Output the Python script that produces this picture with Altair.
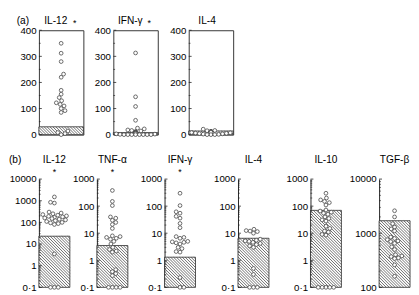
import math
import altair as alt
import pandas as pd

FONT = "Liberation Sans"

# ---------------- data ----------------
# (a) linear panels, 0-400
a_names = ["IL-12", "IFN-γ", "IL-4"]
a_star = [True, True, False]
a_bar = [30, 8, 14]
a_il12 = [350, 312, 280, 232, 220, 170, 155, 142, 130, 122, 116, 110, 100, 92, 85, 14, 8, 4, 0]
a_ifng = [313, 145, 108, 55, 25, 22, 18, 16, 14, 12, 10, 9, 8, 7, 6, 5, 4, 3, 2, 1,
          0, 0, 0, 0, 0, 0, 0, 0]
a_il4 = [21, 16, 15, 13, 12, 11, 10, 9, 8, 7, 6, 5, 4, 3, 2, 1, 0, 0, 0]
a_vals = [a_il12, a_ifng, a_il4]
a_domain = [0, 400]
a_majors = [0, 100, 200, 300, 400]
a_minors = [50, 150, 250, 350]

# (b) log panels
b_names = ["IL-12", "TNF-α", "IFN-γ", "IL-4", "IL-10", "TGF-β"]
b_star = [True, True, True, False, False, False]
b_bar = [23, 3.5, 1.3, 6.5, 70, 1700]
b_domains = [[0.1, 10000], [0.1, 1000], [0.1, 1000], [0.1, 1000], [0.1, 1000], [100, 10000]]
b_il12 = [1500, 850, 780, 300, 270, 250, 230, 215, 200, 190, 180, 170, 160, 150, 140,
          130, 120, 110, 100, 95, 88, 80, 3.5, 0.1, 0.1, 0.1]
b_tnf = [380, 150, 105, 40, 36, 30, 25, 21, 15, 8, 7.5, 7, 6.5, 6, 5, 4, 3, 2.5, 2.2, 2,
         0.45, 0.38, 0.32, 0.27, 0.1, 0.1, 0.1, 0.1]
b_ifng = [300, 105, 62, 55, 42, 36, 23, 16, 7.5, 7, 6.5, 5, 4.8, 4.6, 4.4, 4, 3, 2.7,
          2.1, 2, 0.23, 0.1, 0.1]
b_il4 = [14, 12.5, 12, 11.5, 10, 6, 5.5, 5.2, 5, 4.6, 4.2, 3.8, 3.4, 3, 0.5, 0.3, 0.1, 0.1, 0.1]
b_il10 = [300, 200, 170, 150, 135, 110, 72, 66, 60, 55, 50, 40, 35, 31, 28, 18, 15, 12, 11,
          9, 8.5, 0.1, 0.1, 0.1, 0.1, 0.1]
b_tgfb = [2600, 2000, 1500, 1300, 1200, 1100, 850, 800, 760, 720, 700, 650, 560, 500, 400,
          380, 370, 350, 340, 260, 160]
b_vals = [b_il12, b_tnf, b_ifng, b_il4, b_il10, b_tgfb]

# ---------------- layout / style ----------------
A_W, A_H, A_EXT, A_SP = 46, 108, 23, 6
B_W, B_H, B_SP = 32, 112, 0
B_EXT = [31, 26, 36, 42, 41, 37]
DOT_D = 4.0
HATCH_PERIOD = 3.0


def px_fn(d0, d1, h, log):
    if log:
        l0, l1 = math.log10(d0), math.log10(d1)
        return lambda v: h * (1 - (math.log10(v) - l0) / (l1 - l0))
    return lambda v: h * (1 - (v - d0) / (d1 - d0))


def inv_fn(d0, d1, h, log):
    if log:
        l0, l1 = math.log10(d0), math.log10(d1)
        return lambda p: 10 ** (l0 + (1 - p / h) * (l1 - l0))
    return lambda p: d0 + (1 - p / h) * (d1 - d0)


def swarm(vals, to_px, w, d=DOT_D):
    order = sorted(range(len(vals)), key=lambda i: vals[i])
    placed, xs = [], [0.0] * len(vals)
    lim = w / 2 - 2.3
    for n, i in enumerate(order):
        y = to_px(vals[i])
        best = None
        for k in range(0, 200):
            sgns = [1] if k == 0 else ([1, -1] if n % 2 else [-1, 1])
            for s in sgns:
                x = s * k * 0.5
                if abs(x) > lim:
                    continue
                if all((x - px) ** 2 + (y - py) ** 2 >= d * d for px, py in placed):
                    best = x
                    break
            if best is not None:
                break
        if best is None:
            best = 0.0
        placed.append((best, y))
        xs[i] = best
    return xs


def hatch_segments(w, top, bot, inv_y, period=HATCH_PERIOD):
    """45-degree '\\' lines clipped to the bar rectangle, returned in data units."""
    rows = []
    c = -bot + period / 2
    while c < w - top:
        lo = max(0.0, top + c)
        hi = min(float(w), bot + c)
        if hi - lo > 0.2:
            rows.append({"hx": lo / (w / 2) - 1, "hx2": hi / (w / 2) - 1,
                         "hy": inv_y(lo - c), "hy2": inv_y(hi - c)})
        c += period
    return pd.DataFrame(rows)


def text_layer(s, x, y, size, align="center"):
    return (alt.Chart(pd.DataFrame({"s": [s]}))
            .mark_text(font=FONT, fontSize=size, align=align, baseline="alphabetic", color="black")
            .encode(x=alt.value(x), y=alt.value(y), text="s:N"))


def panel(name, vals, bar, d0, d1, log, w, h, ext, star, star_xy, framed,
          majors, minors, title_xy, row_label=None):
    to_px = px_fn(d0, d1, h, log)
    inv_y = inv_fn(d0, d1, h, log)
    xs = swarm(vals, to_px, w)
    pts = pd.DataFrame({"x": [x / (w / 2) for x in xs], "v": vals})
    if log:
        yscale = alt.Scale(type="log", domain=[d0, d1], nice=False)
    else:
        yscale = alt.Scale(domain=[d0, d1], nice=False, zero=False)
    xscale = alt.Scale(domain=[-1, 1], nice=False, zero=False)
    axis = alt.Axis(values=majors,
                    labelExpr="datum.value > 0 && datum.value < 1 ? '0·1' : format(datum.value, 'd')",
                    ticks=False, domain=not framed, domainColor="#222222", domainWidth=1,
                    labelFont=FONT, labelFontSize=10, labelColor="black", labelPadding=3,
                    grid=False, title=None, minExtent=ext, maxExtent=ext)
    bar_df = pd.DataFrame({"x0": [-1.0], "x1": [1.0], "lo": [d0], "hi": [bar]})
    hs = hatch_segments(w, to_px(bar), to_px(d0), inv_y)
    layers = [
        alt.Chart(bar_df).mark_rect(fill="white", stroke="#222222", strokeWidth=0.8)
        .encode(x=alt.X("x0:Q", scale=xscale, axis=None), x2="x1",
                y=alt.Y("lo:Q", scale=yscale, axis=axis), y2="hi"),
        alt.Chart(hs).mark_rule(color="#3a3a3a", strokeWidth=0.75)
        .encode(x=alt.X("hx:Q", scale=xscale, axis=None), x2="hx2",
                y=alt.Y("hy:Q", scale=yscale, axis=axis), y2="hy2"),
        alt.Chart(pd.DataFrame({"t": majors})).mark_rule(color="#222222", strokeWidth=0.8)
        .encode(y=alt.Y("t:Q", scale=yscale, axis=axis), x=alt.value(0), x2=alt.value(3)),
        alt.Chart(pd.DataFrame({"t": minors})).mark_rule(color="#222222", strokeWidth=0.7)
        .encode(y=alt.Y("t:Q", scale=yscale, axis=axis), x=alt.value(0), x2=alt.value(1.8)),
        alt.Chart(pts).mark_point(filled=True, fill="white", stroke="#444444", strokeWidth=0.8,
                                  size=15, opacity=1, shape="circle")
        .encode(x=alt.X("x:Q", scale=xscale, axis=None), y=alt.Y("v:Q", scale=yscale, axis=axis)),
        text_layer(name, title_xy[0], title_xy[1], 10.5),
    ]
    if star:
        layers.append(text_layer("*", star_xy[0], star_xy[1], 9))
    if row_label:
        layers.append(text_layer(row_label, -ext, title_xy[1], 10.5, align="left"))
    view = alt.ViewBackground(stroke="#333333" if framed else "transparent", strokeWidth=1)
    return alt.layer(*layers).properties(width=w, height=h, view=view)


def log_ticks(d0, d1):
    k0, k1 = round(math.log10(d0)), round(math.log10(d1))
    majors = [10.0 ** k for k in range(k0, k1 + 1)]
    minors = [m * 10.0 ** k for k in range(k0, k1) for m in range(2, 10)]
    return majors, minors


a_title_dx = [-5.5, -5.5, -4]
row_a = []
for i, name in enumerate(a_names):
    row_a.append(panel(name, a_vals[i], a_bar[i], a_domain[0], a_domain[1], False, A_W, A_H, A_EXT,
                       a_star[i], (37, -4.5), True, a_majors, a_minors,
                       (A_W / 2 + a_title_dx[i], -6.5), "(a)" if i == 0 else None))

row_b = []
for i, name in enumerate(b_names):
    d0, d1 = b_domains[i]
    mj, mn = log_ticks(d0, d1)
    row_b.append(panel(name, b_vals[i], b_bar[i], d0, d1, True, B_W, B_H, B_EXT[i],
                       b_star[i], (B_W / 2, -4.2), False, mj, mn,
                       (B_W / 2, -17), "(b)" if i == 0 else None))

chart = alt.vconcat(
    alt.hconcat(*row_a, spacing=A_SP),
    alt.hconcat(*row_b, spacing=B_SP),
    spacing=14,
).properties(padding={"top": 3, "left": 0, "right": 0, "bottom": 0}, background="white")

chart.save("out.html", embed_options={"renderer": "svg", "actions": False})
